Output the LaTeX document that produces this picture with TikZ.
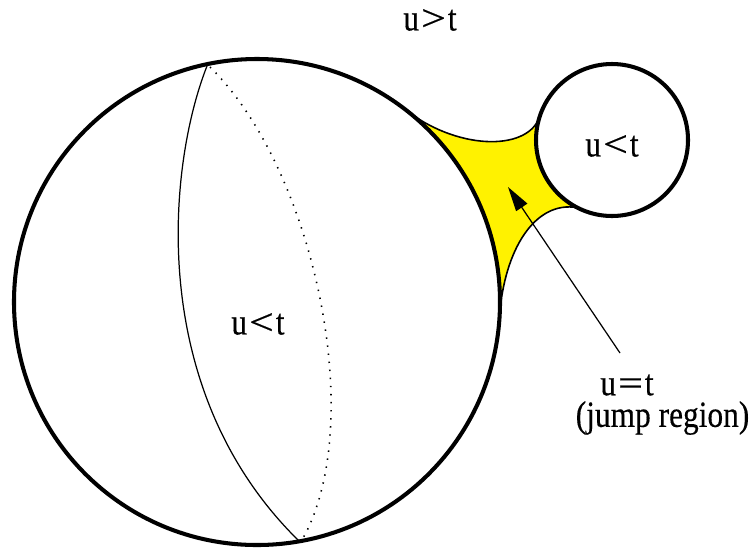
\documentclass[tikz,border=0pt]{standalone}
\usepackage{fontspec}
\setmainfont{Liberation Serif}
\newfontfamily\lblfont{Liberation Serif}[FakeBold=0.4]
\usepackage{graphicx}
\usetikzlibrary{arrows.meta}
\newcommand{\wrel}[1]{\kern0.6pt\scalebox{1.4}[1]{#1}\kern0.6pt}
\newcommand{\tallt}[1]{\scalebox{0.95}[1.12]{#1}}
\begin{document}
\begin{tikzpicture}[x=0.01cm,y=-0.01cm,
  thickline/.style={line width=1.15pt},
  thinline/.style={line width=0.35pt},
  bdline/.style={line width=0.45pt},
  dotline/.style={line width=0.45pt, dash pattern=on 0.4pt off 1.9pt},
  lbl/.style={inner sep=0pt, font=\lblfont\fontsize{9.4}{11}\selectfont}]
\useasboundingbox (0,0) rectangle (752,551);
\coordinate (C) at (257,302);
\coordinate (S) at (612,140);
\coordinate (P1) at (403.2,107.9);
\coordinate (P2) at (499.5,316.8);
\coordinate (Q1) at (577.5,207.7);
\coordinate (Q2) at (539.3,117.8);
% yellow jump region
\fill[yellow] (P1) arc[start angle=-53, end angle=3.5, radius=243]
  .. controls (504,250) and (535,200) .. (Q1)
  arc[start angle=117, end angle=197, radius=76]
  .. controls (526,152) and (455,150) .. (P1) -- cycle;
\draw[bdline] (P2) .. controls (504,250) and (535,200) .. (Q1);
\draw[bdline] (Q2) .. controls (526,152) and (455,150) .. (P1);
% meridians
\coordinate (T1) at (207,66);
\coordinate (B1) at (299,541);
\coordinate (T2) at (210,67);
\coordinate (B2) at (302,540);
\draw[thinline] (T1) .. controls (168,165) and (145,390) .. (B1);
\draw[dotline] (T2) .. controls (315,170) and (368,425) .. (B2);
% circles
\draw[thickline] (C) circle[radius=243];
\draw[thickline] (S) circle[radius=76];
% labels
\node[lbl] (gt) at (430,20) {\tallt{u\wrel{>}t}};
\node[lbl] (lt1) at (258,324) {\tallt{u\wrel{<}t}};
\node[lbl] (lt2) at (612,146) {\tallt{u\wrel{<}t}};
\node[lbl] (eq) at (627,385) {\tallt{u\wrel{=}t}};
\node[lbl, anchor=east] (jr) at (750,418) {\tallt{(jump region)}};
% arrow
\coordinate (A0) at (620,353);
\coordinate (A1) at (508,187);
\draw[thinline, -{Triangle[length=7pt,width=3.8pt]}] (A0) -- (A1);
\end{tikzpicture}
\end{document}
